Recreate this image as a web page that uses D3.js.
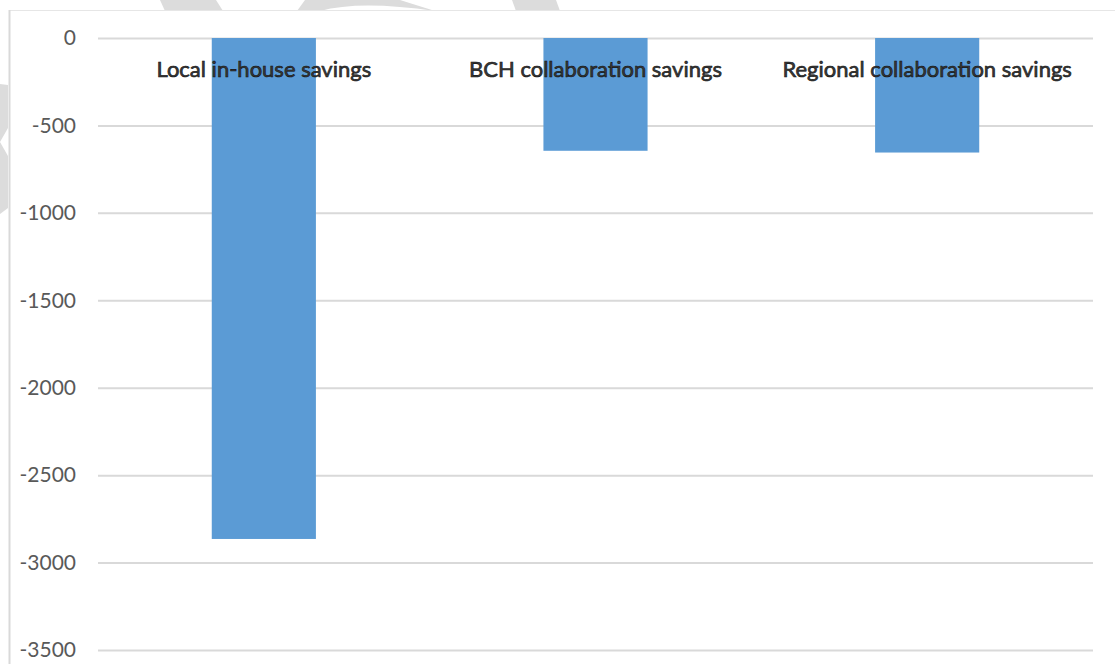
<!DOCTYPE html>
<html>
<head>
<meta charset="utf-8">
<script src="https://cdn.jsdelivr.net/npm/d3@7"></script>
<style>
  body { margin: 0; background: #fff; }
  svg { display: block; }
</style>
</head>
<body>
<svg id="drawing_region"></svg>
<script>
const categories = ["Local in-house savings", "BCH collaboration savings", "Regional collaboration savings"];
const savings = [-2865, -645, -655];
const yTicks = [0, -500, -1000, -1500, -2000, -2500, -3000, -3500];

class SavingsChart {

    constructor( config, data ) {
        this.config = {
            parent: config.parent,
            width: config.width || 1115,
            height: config.height || 664,
            margin: config.margin || {top:38, right:22, bottom:14, left:98}
        }
        this.data = data;
        this.init();
    }

    init() {
        let self = this;

        self.svg = d3.select( self.config.parent )
            .attr('width', self.config.width)
            .attr('height', self.config.height);

        self.inner_width = self.config.width - self.config.margin.left - self.config.margin.right;
        self.inner_height = self.config.height - self.config.margin.top - self.config.margin.bottom;

        self.xscale = d3.scaleBand()
            .domain( self.data.map(d => d.label) )
            .range( [0, self.inner_width] )
            .paddingInner(0.686)
            .paddingOuter(0.343);

        self.yscale = d3.scaleLinear()
            .domain( [0, -3500] )
            .range( [0, self.inner_height] );
    }

    update() {
        let self = this;
        self.render();
    }

    render() {
        let self = this;

        // watermark shapes behind the chart
        const wm = self.svg.append('g').attr('fill', '#dcdcdc');
        wm.append('path').attr('d', 'M165,11 L223,11 L216,0 L160,0 Z');
        wm.append('path').attr('d', 'M297,11 L320,11 Q360,0 435,11 L400,0 L305,0 Z');
        wm.append('path').attr('d', 'M516,11 L560,11 L556,0 L512,0 Z');
        wm.append('path').attr('d', 'M0,84 L8,85 L8,128 L0,142 L8,156 L8,208 L0,214 Z');

        // chart frame (top and left edges)
        self.svg.append('line')
            .attr('x1', 10).attr('x2', self.config.width)
            .attr('y1', 10.5).attr('y2', 10.5)
            .attr('stroke', '#e6e6e6');
        self.svg.append('line')
            .attr('x1', 9.5).attr('x2', 9.5)
            .attr('y1', 10).attr('y2', self.config.height)
            .attr('stroke', '#d9d9d9').attr('stroke-width', 2);

        self.chart = self.svg.append('g')
            .attr('transform', `translate(${self.config.margin.left}, ${self.config.margin.top})`);

        // gridlines + tick labels
        const yaxis = d3.axisLeft( self.yscale )
            .tickValues( yTicks )
            .tickSize( -self.inner_width )
            .tickPadding( 22 )
            .tickFormat( d => String(d) );

        const ya = self.chart.append('g').call( yaxis );
        ya.select('.domain').remove();
        ya.selectAll('.tick line')
            .attr('stroke', '#d9d9d9')
            .attr('stroke-width', 2);
        ya.selectAll('.tick text')
            .attr('fill', '#595959')
            .attr('font-family', 'Lato, sans-serif')
            .attr('font-size', '21px');

        // bars
        self.chart.selectAll('.bar')
            .data( self.data )
            .join('rect')
            .attr('class', 'bar')
            .attr('x', d => self.xscale(d.label))
            .attr('y', d => self.yscale(Math.max(0, d.value)))
            .attr('width', self.xscale.bandwidth())
            .attr('height', d => Math.abs(self.yscale(d.value) - self.yscale(0)))
            .attr('fill', '#5b9bd5');

        // category labels
        self.chart.selectAll('.cat')
            .data( self.data )
            .join('text')
            .attr('class', 'cat')
            .attr('x', d => self.xscale(d.label) + self.xscale.bandwidth()/2)
            .attr('y', 39)
            .attr('text-anchor', 'middle')
            .attr('font-family', 'Lato, sans-serif')
            .attr('font-size', '22px')
            .attr('fill', '#3a3a3a')
            .attr('stroke', '#111')
            .attr('stroke-width', 0.6)
            .text(d => d.label);
    }
}

const data = categories.map((c, i) => ({ label: c, value: savings[i] }));
const chart = new SavingsChart( { parent: '#drawing_region', width: 1115, height: 664 }, data );
chart.update();
</script>
</body>
</html>
